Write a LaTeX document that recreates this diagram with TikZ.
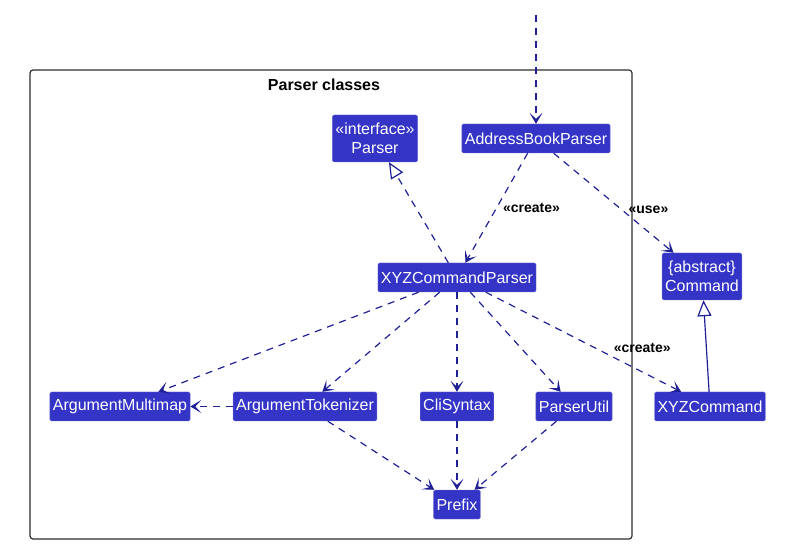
\documentclass[tikz,border=0pt]{standalone}
\usepackage{fontspec}
\setmainfont{Liberation Sans}
\usepackage{tikz}
\usetikzlibrary{arrows.meta, positioning, calc}
\definecolor{logicBlue}{RGB}{52,52,198}
\definecolor{arrowBlue}{RGB}{32,32,150}
\definecolor{frameGray}{RGB}{45,45,45}

\begin{document}
\begin{tikzpicture}[
  x=1pt, y=-1pt,
  cls/.style={rectangle, rounded corners=1.5pt, fill=logicBlue, draw=logicBlue!75!white, text=white, inner xsep=3pt, inner ysep=0pt, minimum height=29pt, align=center, font=\fontsize{16}{19}\selectfont},
  twoline/.style={cls, minimum height=47pt},
  dep/.style={arrowBlue, line width=1.2pt, dash pattern=on 7pt off 6pt, -{Stealth[length=11pt, width=13pt, inset=6pt]}},
  realize/.style={arrowBlue, line width=1.2pt, dash pattern=on 7pt off 6pt, -{Triangle[open, length=16pt, width=14pt, fill=white]}},
  extend/.style={arrowBlue, line width=1.2pt, -{Triangle[open, length=16pt, width=14pt, fill=white]}},
  lbl/.style={font=\fontsize{14}{16}\selectfont\bfseries, text=black, inner sep=0pt}
]
\useasboundingbox (0,0) rectangle (807,548);

% Frame
\draw [frameGray, line width=1.2pt, rounded corners=3pt] (30,70) rectangle (632,539);
\node (title) [font=\fontsize{16}{19}\selectfont\bfseries] at (324,85) {Parser classes};

% Nodes
\coordinate (entry) at (536,15);
\node (abparser) [cls] at (536,138.5) {AddressBookParser};
\node (parser) [twoline] at (375,138.5) {«interface»\\Parser};
\node (xyzparser) [cls] at (457,277.5) {XYZCommandParser};
\node (command) [twoline] at (702,276.5) {\{abstract\}\\Command};
\node (argmap) [cls] at (120,406.5) {ArgumentMultimap};
\node (argtok) [cls] at (305,406.5) {ArgumentTokenizer};
\node (clisyntax) [cls] at (457,406.5) {CliSyntax};
\node (parserutil) [cls] at (574,406.5) {ParserUtil};
\node (xyzcommand) [cls] at (710,406.5) {XYZCommand};
\node (prefix) [cls] at (457,504.5) {Prefix};

% Arrows
\draw [dep] (entry) -- (abparser);
\draw [dep] (abparser) -- node[lbl, pos=0.5, right=6pt] {«create»} (xyzparser);
\draw [dep] (abparser) -- node[lbl, pos=0.57, right=6pt] {«use»} (command);
\draw [realize] (xyzparser) -- (parser);
\draw [dep] (xyzparser) -- (argmap);
\draw [dep] (xyzparser) -- (argtok);
\draw [dep] (xyzparser) -- (clisyntax);
\draw [dep] (xyzparser) -- (parserutil);
\draw [dep] (xyzparser) -- node[lbl, pos=0.56, right=18pt] {«create»} (xyzcommand);
\draw [extend] (xyzcommand) -- (command);
\draw [dep] (argtok) -- (argmap);
\draw [dep] (argtok) -- (prefix);
\draw [dep] (clisyntax) -- (prefix);
\draw [dep] (parserutil) -- (prefix);

\end{tikzpicture}
\end{document}
